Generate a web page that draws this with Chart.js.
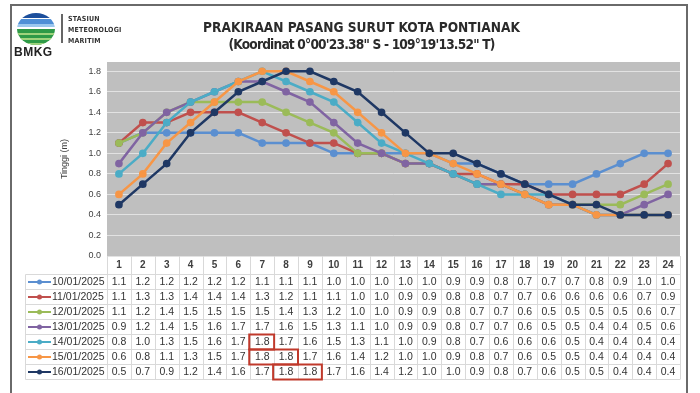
<!DOCTYPE html>
<html>
<head>
<meta charset="utf-8">
<script src="https://cdn.jsdelivr.net/npm/chart.js@4.4.1/dist/chart.umd.min.js"></script>
<style>
  body { margin: 0; background: #fff; }
  #wrap { position: relative; width: 700px; height: 393px; overflow: hidden; }
  #frame { position: absolute; left: 10px; top: 4px; width: 678px; height: 420px; border: 2px solid #6a6a6a; box-sizing: border-box; }
  .ttl { position: absolute; left: 0; width: 723px; text-align: center; color: #2a2a2a; font-weight: bold;
         font-family: "Liberation Sans Narrow", "DejaVu Sans Condensed", Roboto, sans-serif; font-stretch: condensed; font-size: 13.6px; }
  .stn { position: absolute; left: 68px; color: #333; font-family: "Liberation Sans Narrow", "DejaVu Sans Condensed", Roboto, sans-serif;
         font-stretch: condensed; font-weight: bold; font-size: 7px; letter-spacing: 0.2px; }
  #bmkg { position: absolute; left: 14px; top: 45px; font-family: "Liberation Sans", Arial, sans-serif; font-weight: bold; font-size: 12px; letter-spacing: 0.5px; color: #222; }
  canvas { position: absolute; left: 0; top: 0; }
</style>
</head>
<body>
<div id="wrap">
  <canvas id="myChart" width="700" height="393"></canvas>
  <div id="frame"></div>
  <div class="ttl" style="top:19px">PRAKIRAAN PASANG SURUT KOTA PONTIANAK</div>
  <div class="ttl" style="top:36px;letter-spacing:-0.8px">(Koordinat 0°00'23.38" S - 109°19'13.52" T)</div>
  <div class="stn" style="top:15px">STASIUN</div>
  <div class="stn" style="top:26px">METEOROLOGI</div>
  <div class="stn" style="top:37px">MARITIM</div>
  <div id="bmkg">BMKG</div>
</div>
<script>
let hours=['1','2','3','4','5','6','7','8','9','10','11','12','13','14','15','16','17','18','19','20','21','22','23','24']
let dates=['10/01/2025','11/01/2025','12/01/2025','13/01/2025','14/01/2025','15/01/2025','16/01/2025']

let d10=[1.1,1.2,1.2,1.2,1.2,1.2,1.1,1.1,1.1,1.0,1.0,1.0,1.0,1.0,0.9,0.9,0.8,0.7,0.7,0.7,0.8,0.9,1.0,1.0]
let d11=[1.1,1.3,1.3,1.4,1.4,1.4,1.3,1.2,1.1,1.1,1.0,1.0,0.9,0.9,0.8,0.8,0.7,0.7,0.6,0.6,0.6,0.6,0.7,0.9]
let d12=[1.1,1.2,1.4,1.5,1.5,1.5,1.5,1.4,1.3,1.2,1.0,1.0,0.9,0.9,0.8,0.7,0.7,0.6,0.5,0.5,0.5,0.5,0.6,0.7]
let d13=[0.9,1.2,1.4,1.5,1.6,1.7,1.7,1.6,1.5,1.3,1.1,1.0,0.9,0.9,0.8,0.7,0.7,0.6,0.5,0.5,0.4,0.4,0.5,0.6]
let d14=[0.8,1.0,1.3,1.5,1.6,1.7,1.8,1.7,1.6,1.5,1.3,1.1,1.0,0.9,0.8,0.7,0.6,0.6,0.6,0.5,0.4,0.4,0.4,0.4]
let d15=[0.6,0.8,1.1,1.3,1.5,1.7,1.8,1.8,1.7,1.6,1.4,1.2,1.0,1.0,0.9,0.8,0.7,0.6,0.5,0.5,0.4,0.4,0.4,0.4]
let d16=[0.5,0.7,0.9,1.2,1.4,1.6,1.7,1.8,1.8,1.7,1.6,1.4,1.2,1.0,1.0,0.9,0.8,0.7,0.6,0.5,0.5,0.4,0.4,0.4]

let yTicks=[0,0.2,0.4,0.6,0.8,1.0,1.2,1.4,1.6,1.8]

let allSeries=[d10,d11,d12,d13,d14,d15,d16]
let colors=['#5b8fd0','#c0504d','#9bbb59','#8064a2','#4bacc6','#f79646','#1f3864']

const ctx=document.getElementById('myChart')

// gray plot background, excel style
const plotBg={
  id:'plotBg',
  beforeDraw(chart){
    const a=chart.chartArea, c=chart.ctx
    c.save()
    c.fillStyle='#bfbfbf'
    c.fillRect(a.left,a.top,a.right-a.left,a.bottom-a.top)
    c.restore()
  }
}

// the data table under the plot
const dataTable={
  id:'dataTable',
  afterDraw(chart){
    const c=chart.ctx, a=chart.chartArea, x=chart.scales.x
    const colW=x.getPixelForValue(1)-x.getPixelForValue(0)
    const headTop=a.bottom, rowsTop=274.5, rowH=15
    const tabLeft=25.5, tabBottom=rowsTop+rowH*dates.length
    c.save()
    c.strokeStyle='#d9d9d9'
    c.lineWidth=1
    c.beginPath()
    for(let i=0;i<=hours.length;i++){
      let bx=Math.round(x.getPixelForValue(i)-colW/2)+0.5
      c.moveTo(bx,headTop); c.lineTo(bx,tabBottom)
    }
    c.moveTo(tabLeft,rowsTop); c.lineTo(tabLeft,tabBottom)
    for(let r=0;r<=dates.length;r++){
      let by=rowsTop+r*rowH
      c.moveTo(tabLeft,by); c.lineTo(a.right,by)
    }
    c.stroke()

    c.textAlign='center'
    c.textBaseline='middle'
    c.fillStyle='#404040'
    c.font='bold 10px "Liberation Sans", Arial, sans-serif'
    hours.forEach((h,i)=>c.fillText(h,x.getPixelForValue(i),265))

    let maxVal=Math.max(...allSeries.flat())
    allSeries.forEach((s,r)=>{
      let cy=rowsTop+r*rowH+rowH/2
      // legend key
      c.strokeStyle=colors[r]
      c.lineWidth=2
      c.beginPath(); c.moveTo(28,cy); c.lineTo(51,cy); c.stroke()
      c.fillStyle=colors[r]
      c.beginPath(); c.arc(39.5,cy,2.5,0,Math.PI*2); c.fill()
      c.fillStyle='#333'
      c.textAlign='left'
      c.font='10.5px "Liberation Sans", Arial, sans-serif'
      c.fillText(dates[r],52,cy)
      c.textAlign='center'
      s.forEach((v,i)=>c.fillText(v.toFixed(1),x.getPixelForValue(i),cy))
      // red boxes round the highest values
      c.strokeStyle='#c0392b'
      c.lineWidth=2
      let i=0
      while(i<s.length){
        if(s[i]===maxVal){
          let j=i
          while(j+1<s.length && s[j+1]===maxVal) j++
          let l=x.getPixelForValue(i)-colW/2, rgt=x.getPixelForValue(j)+colW/2
          c.strokeRect(l-1,cy-rowH/2,rgt-l+1,rowH)
          i=j+1
        } else i++
      }
    })
    c.restore()
  }
}

// BMKG logo shape
const logo={
  id:'logo',
  afterDraw(chart){
    const c=chart.ctx
    c.save()
    c.beginPath(); c.ellipse(36,29,19,16,0,0,Math.PI*2); c.clip()
    c.fillStyle='#1c4f9c'; c.fillRect(16,12,40,6)
    c.fillStyle='#4f8fd6'; c.fillRect(16,19,40,5)
    c.fillStyle='#9cc8ee'; c.fillRect(16,24,40,3)
    c.fillStyle='#2e9a47'; c.fillRect(16,29,40,20)
    c.fillStyle='#9fd37c'
    c.fillRect(16,33,40,2); c.fillRect(16,38,40,2); c.fillRect(16,43,40,2)
    c.restore()
    c.save()
    c.strokeStyle='#333'; c.lineWidth=1.5
    c.beginPath(); c.moveTo(62,14); c.lineTo(62,43); c.stroke()
    c.restore()
  }
}

let myChart=new Chart(ctx,{
  type:'line',
  data:{
    labels:hours,
    datasets:allSeries.map((s,i)=>({
      label:dates[i],
      data:s,
      borderColor:colors[i],
      backgroundColor:colors[i],
      pointBackgroundColor:colors[i],
      pointBorderColor:colors[i],
      borderWidth:2.5,
      pointRadius:2.6,
      tension:0,
      order:allSeries.length-i
    }))
  },
  options:{
    responsive:false,
    animation:false,
    layout:{padding:{left:55,right:20,top:62,bottom:137}},
    plugins:{legend:{display:false},title:{display:false},tooltip:{enabled:false}},
    scales:{
      x:{type:'category',display:false,offset:true},
      y:{
        min:0,max:1.89,
        afterBuildTicks:s=>{s.ticks=yTicks.map(v=>({value:v}))},
        afterFit:s=>{s.width=52},
        ticks:{color:'#404040',font:{size:9,family:'"Liberation Sans", Arial, sans-serif'},padding:6,callback:v=>v.toFixed(1)},
        grid:{color:'#e2e2e2',lineWidth:1,drawTicks:false},
        border:{display:false},
        title:{display:true,text:'Tinggi (m)',color:'#404040',font:{size:9,family:'"Liberation Sans", Arial, sans-serif'},padding:{top:4,bottom:0}}
      }
    }
  },
  plugins:[plotBg,dataTable,logo]
})
</script>
</body>
</html>
